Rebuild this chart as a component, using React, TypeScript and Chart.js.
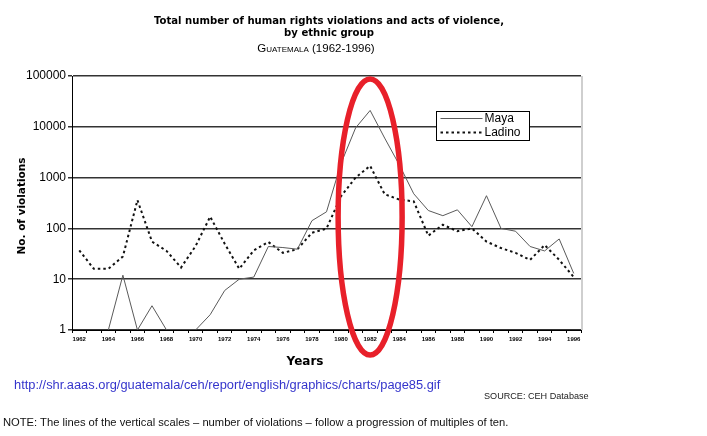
import { useEffect, useRef } from 'react';
import { Chart, registerables } from 'chart.js';

Chart.register(...registerables);

// Years on the category axis
const years = [
  '1962', '1963', '1964', '1965', '1966', '1967', '1968', '1969', '1970', '1971',
  '1972', '1973', '1974', '1975', '1976', '1977', '1978', '1979', '1980', '1981',
  '1982', '1983', '1984', '1985', '1986', '1987', '1988', '1989', '1990', '1991',
  '1992', '1993', '1994', '1995', '1996',
];

// Violations recorded against Maya victims (null = none recorded)
const mayaCounts = [
  null, null, 1, 12, 1, 3, 1, 1, 1, 2,
  6, 10, 11, 44, 42, 39, 142, 212, 1900, 9500,
  21000, 6000, 1800, 480, 225, 178, 232, 108, 440, 100,
  88, 44, 36, 62, 13,
];

// Violations recorded against Ladino victims
const ladinoCounts = [
  37, 16, 16, 28, 360, 55, 36, 17, 45, 170,
  50, 16, 37, 54, 33, 39, 82, 99, 430, 1000,
  1700, 470, 370, 340, 72, 118, 88, 100, 55, 41,
  33, 24, 47, 24, 11,
];

// Decade gridlines of the log axis
const decadeTicks = [1, 10, 100, 1000, 10000, 100000];

// Year circled on the chart
const highlightYear = '1982';

const SANS = '"Liberation Sans", Arial, sans-serif';
const HEAVY = '"DejaVu Sans", "Liberation Sans", sans-serif';

const decor = {
  id: 'decor',
  afterDatasetsDraw(chart: any) {
    const { ctx, chartArea } = chart;
    ctx.save();
    // light frame on the right edge of the plot
    ctx.strokeStyle = '#cfcfcf';
    ctx.lineWidth = 2;
    ctx.beginPath();
    ctx.moveTo(chartArea.right + 1, chartArea.top);
    ctx.lineTo(chartArea.right + 1, chartArea.bottom);
    ctx.stroke();

    // legend box
    const bx = Math.round(chartArea.right - 145) + 0.5;
    const by = Math.round(chartArea.top + 35) + 0.5;
    const bw = 93;
    const bh = 29;
    ctx.fillStyle = '#ffffff';
    ctx.fillRect(bx, by, bw, bh);
    ctx.strokeStyle = '#000';
    ctx.lineWidth = 1;
    ctx.strokeRect(bx, by, bw, bh);
    chart.data.datasets.forEach((ds: any, i: number) => {
      const y = by + 7 + i * 14;
      ctx.save();
      ctx.strokeStyle = ds.borderColor;
      ctx.lineWidth = ds.borderWidth;
      ctx.setLineDash(ds.borderDash || []);
      ctx.beginPath();
      ctx.moveTo(bx + 4, y);
      ctx.lineTo(bx + 46, y);
      ctx.stroke();
      ctx.restore();
      ctx.fillStyle = '#000';
      ctx.font = `12px ${SANS}`;
      ctx.textAlign = 'left';
      ctx.textBaseline = 'middle';
      ctx.fillText(ds.label, bx + 48, y + 0.5);
    });
    ctx.restore();
  },
  afterDraw(chart: any) {
    const { ctx, chartArea, scales } = chart;
    ctx.save();
    // axis captions
    ctx.fillStyle = '#000';
    ctx.font = `bold 10.5px ${HEAVY}`;
    ctx.textAlign = 'center';
    ctx.textBaseline = 'middle';
    ctx.save();
    ctx.translate(22, (chartArea.top + chartArea.bottom) / 2 + 3);
    ctx.rotate(-Math.PI / 2);
    ctx.fillText('No. of violations', 0, 0);
    ctx.restore();
    ctx.font = `bold 12px ${HEAVY}`;
    ctx.fillText('Years', chartArea.left + 233, chartArea.bottom + 32);

    // red ellipse around the peak year
    const cx = scales.x.getPixelForValue(years.indexOf(highlightYear));
    const cy = chartArea.top + 141;
    ctx.strokeStyle = '#e8202a';
    ctx.lineWidth = 5.5;
    ctx.beginPath();
    ctx.ellipse(cx, cy, 32, 138, 0, 0, Math.PI * 2);
    ctx.stroke();
    ctx.restore();
  },
};

export default function App() {
  const canvasRef = useRef<HTMLCanvasElement>(null);

  useEffect(() => {
    const chart = new Chart(canvasRef.current as HTMLCanvasElement, {
      type: 'line',
      data: {
        labels: years,
        datasets: [
          {
            label: 'Maya',
            data: mayaCounts,
            borderColor: '#5a5a5a',
            borderWidth: 1,
            pointRadius: 0,
            tension: 0,
            spanGaps: false,
          },
          {
            label: 'Ladino',
            data: ladinoCounts,
            borderColor: '#111111',
            borderWidth: 2,
            borderDash: [2.5, 3],
            pointRadius: 0,
            tension: 0,
          },
        ],
      },
      options: {
        responsive: false,
        animation: false,
        events: [],
        layout: { padding: { top: 76, right: 126, left: 0, bottom: 0 } },
        plugins: {
          legend: { display: false },
          title: { display: false },
          tooltip: { enabled: false },
        },
        scales: {
          x: {
            type: 'category',
            offset: true,
            afterFit: (scale: any) => {
              scale.height = 106;
            },
            grid: {
              offset: true,
              drawOnChartArea: false,
              drawTicks: true,
              tickLength: 3,
              color: '#000',
            },
            border: { display: true, color: '#000', width: 1 },
            ticks: {
              autoSkip: false,
              maxRotation: 0,
              minRotation: 0,
              padding: 3,
              color: '#000',
              font: { family: SANS, size: 6, weight: 'bold' },
              callback: (_v: any, i: number) => (i % 2 === 0 ? years[i] : ''),
            },
          },
          y: {
            type: 'logarithmic',
            min: 1,
            max: 100000,
            afterFit: (scale: any) => {
              scale.width = 72;
            },
            afterBuildTicks: (scale: any) => {
              scale.ticks = decadeTicks.map((value) => ({ value }));
            },
            grid: {
              color: '#333',
              lineWidth: 1.5,
              drawTicks: true,
              tickLength: 4,
            },
            border: { display: true, color: '#000', width: 1 },
            ticks: {
              padding: 2,
              color: '#000',
              font: { family: SANS, size: 12 },
              callback: (v: any) => String(v),
            },
          },
        },
      },
      plugins: [decor],
    } as any);
    return () => chart.destroy();
  }, []);

  return (
    <div
      style={{
        position: 'fixed',
        left: 0,
        top: 0,
        width: 707,
        height: 436,
        background: '#fff',
        fontFamily: SANS,
        color: '#000',
      }}
    >
      <canvas ref={canvasRef} width={707} height={436} style={{ position: 'absolute', left: 0, top: 0 }} />
      <div
        style={{
          position: 'absolute',
          left: 0,
          top: 15,
          width: 658,
          textAlign: 'center',
          fontFamily: HEAVY,
          fontWeight: 'bold',
          fontSize: 10.1,
          lineHeight: '12px',
        }}
      >
        Total number of human rights violations and acts of violence,
        <br />
        by ethnic group
      </div>
      <div
        style={{
          position: 'absolute',
          left: 0,
          top: 42,
          width: 632,
          textAlign: 'center',
          fontSize: 11.5,
          lineHeight: '13px',
        }}
      >
        <span style={{ fontVariant: 'small-caps' }}>Guatemala</span> (1962-1996)
      </div>
      <div
        style={{
          position: 'absolute',
          left: 14,
          top: 377,
          fontSize: 12.85,
          lineHeight: '15px',
          color: '#3535cc',
          whiteSpace: 'nowrap',
        }}
      >
        http://shr.aaas.org/guatemala/ceh/report/english/graphics/charts/page85.gif
      </div>
      <div
        style={{
          position: 'absolute',
          left: 484,
          top: 391,
          fontSize: 9.1,
          lineHeight: '11px',
          color: '#222',
          whiteSpace: 'nowrap',
        }}
      >
        SOURCE: CEH Database
      </div>
      <div
        style={{
          position: 'absolute',
          left: 3,
          top: 415,
          fontSize: 11.2,
          lineHeight: '14px',
          color: '#111',
          whiteSpace: 'nowrap',
        }}
      >
        NOTE: The lines of the vertical scales – number of violations – follow a progression of multiples of ten.
      </div>
    </div>
  );
}
